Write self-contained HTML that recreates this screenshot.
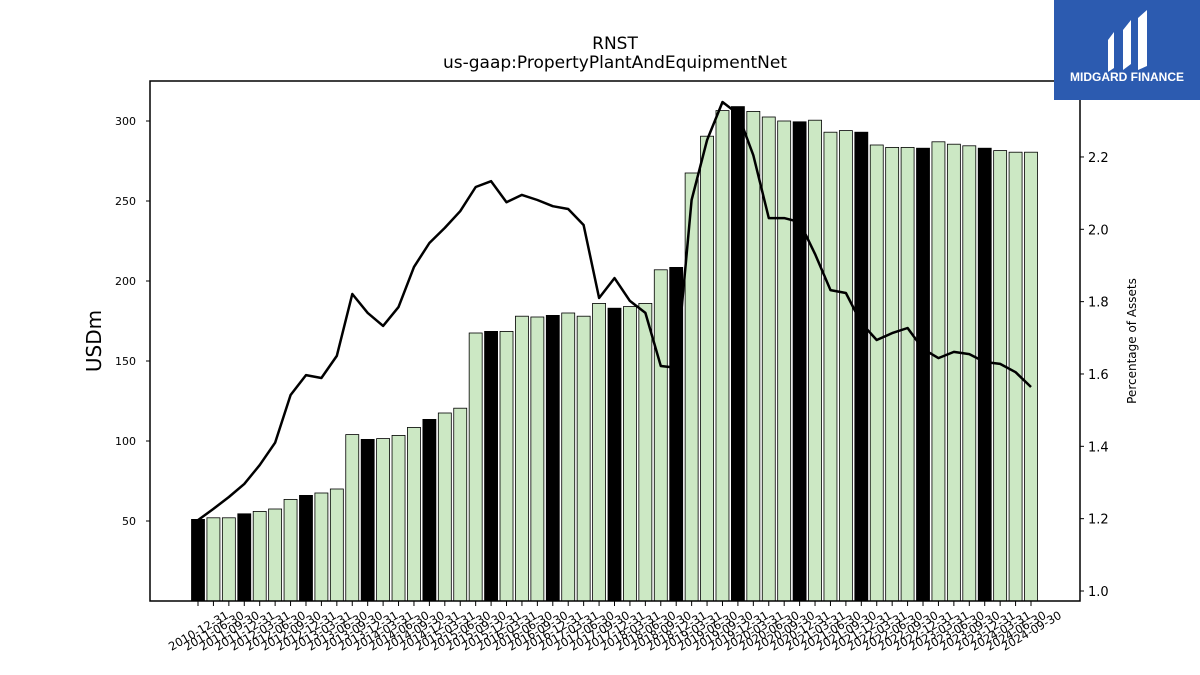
<!DOCTYPE html>
<html><head><meta charset="utf-8"><style>
body{margin:0;background:#fff;}
svg{display:block;font-family:"DejaVu Sans","Liberation Sans",sans-serif;}
</style></head><body>
<svg id="chart" width="1200" height="675" viewBox="0 0 1200 675">
<rect x="0" y="0" width="1200" height="675" fill="#fff"/>
<text x="615" y="49" font-size="17" text-anchor="middle">RNST</text>
<text x="615" y="68" font-size="17" text-anchor="middle">us-gaap:PropertyPlantAndEquipmentNet</text>
<g id="bars"></g>
<g id="line"></g>
<rect x="150" y="81" width="930" height="520" fill="none" stroke="#000" stroke-width="1.5"/>
<g id="axes"></g>
<text transform="translate(101,341) rotate(-90)" font-size="20" text-anchor="middle">USDm</text>
<text transform="translate(1136,341) rotate(-90)" font-size="12" text-anchor="middle">Percentage of Assets</text>
<g>
<rect x="1054" y="0" width="146" height="100" fill="#2c5bb0"/>
<path d="M1108 40 L1114 32 L1114 68 L1108 72 Z" fill="#fff"/>
<path d="M1123 30 L1131 20 L1131 64 L1123 70 Z" fill="#fff"/>
<path d="M1138 18 L1147 10 L1147 66 L1138 70 Z" fill="#fff"/>
<text x="1127" y="81" font-size="12" font-weight="bold" fill="#fff" text-anchor="middle" font-family="Liberation Sans, sans-serif">MIDGARD FINANCE</text>
</g>
</svg>
<script>
const categories=["2010-12-31","2011-06-30","2011-09-30","2011-12-31","2012-03-31","2012-06-30","2012-09-30","2012-12-31","2013-03-31","2013-06-30","2013-09-30","2013-12-31","2014-03-31","2014-06-30","2014-09-30","2014-12-31","2015-03-31","2015-06-30","2015-09-30","2015-12-31","2016-03-31","2016-06-30","2016-09-30","2016-12-31","2017-03-31","2017-06-30","2017-09-30","2017-12-31","2018-03-31","2018-06-30","2018-09-30","2018-12-31","2019-03-31","2019-06-30","2019-09-30","2019-12-31","2020-03-31","2020-06-30","2020-09-30","2020-12-31","2021-03-31","2021-06-30","2021-09-30","2021-12-31","2022-03-31","2022-06-30","2022-09-30","2022-12-31","2023-03-31","2023-06-30","2023-09-30","2023-12-31","2024-03-31","2024-06-30","2024-09-30"];
const ppeValues=[51,52,52,54.5,56,57.5,63.5,66,67.5,70,104,101,101.5,103.5,108.5,113.5,117.5,120.5,167.5,168.5,168.5,178,177.5,178.5,180,178,186,183,184,186,207,208.5,267.5,290.5,306.5,309,306,302.5,300,299.5,300.5,293,294,293,285,283.5,283.5,283,287,285.5,284.5,283,281.5,280.5,280.5];
const pctValues=[1.196,1.227,1.26,1.296,1.348,1.41,1.542,1.597,1.589,1.65,1.821,1.769,1.733,1.785,1.896,1.962,2.004,2.05,2.117,2.133,2.075,2.095,2.081,2.064,2.056,2.012,1.81,1.865,1.802,1.769,1.622,1.617,2.081,2.247,2.352,2.319,2.205,2.031,2.031,2.02,1.932,1.832,1.824,1.741,1.694,1.713,1.727,1.669,1.644,1.661,1.655,1.633,1.628,1.605,1.564];
const leftTicks=[50,100,150,200,250,300];
const rightTicks=[1.0,1.2,1.4,1.6,1.8,2.0,2.2];

const NS="http://www.w3.org/2000/svg";
const n=categories.length;
const xS=i=>198+i*(1031-198)/(n-1);
const yL=v=>601-v*1.6;
const yR=v=>591-(v-1)*361.7;
function mk(tag,attrs,parent){const e=document.createElementNS(NS,tag);for(const k in attrs)e.setAttribute(k,attrs[k]);parent.appendChild(e);return e;}
const bars=document.getElementById('bars'),line=document.getElementById('line'),axes=document.getElementById('axes');
const bw=13;
ppeValues.forEach((v,i)=>{
  const q4=categories[i].endsWith("12-31");
  const r=mk('rect',{x:xS(i)-bw/2,y:yL(v),width:bw,height:601-yL(v),fill:q4?'#000':'#cce8c4',stroke:'#000','stroke-width':0.8},bars);
  
  
});
const pts=pctValues.map((v,i)=>xS(i).toFixed(1)+','+yR(v).toFixed(1)).join(' ');
const pl=mk('polyline',{points:pts,fill:'none',stroke:'#000','stroke-width':2.5,'stroke-linejoin':'round'},line);


leftTicks.forEach(t=>{
  const y=yL(t);
  mk('line',{x1:146,x2:150,y1:y,y2:y,stroke:'#000'},axes);
  const tx=mk('text',{x:136,y:y+4,'font-size':11,'text-anchor':'end'},axes);tx.textContent=t;
  
  
});
rightTicks.forEach(t=>{
  const y=yR(t);
  mk('line',{x1:1080,x2:1084,y1:y,y2:y,stroke:'#000'},axes);
  const tx=mk('text',{x:1088,y:y+5,'font-size':13},axes);tx.textContent=t.toFixed(1);
  
  
});
categories.forEach((c,i)=>{
  const x=xS(i);
  mk('line',{x1:x,x2:x,y1:601,y2:606,stroke:'#000'},axes);
  const tx=mk('text',{transform:`translate(${x+27},${610}) rotate(-30)`,'font-size':11.5,'text-anchor':'end','dominant-baseline':'hanging'},axes);
  tx.textContent=c;
  
  
});
</script>
</body></html>
